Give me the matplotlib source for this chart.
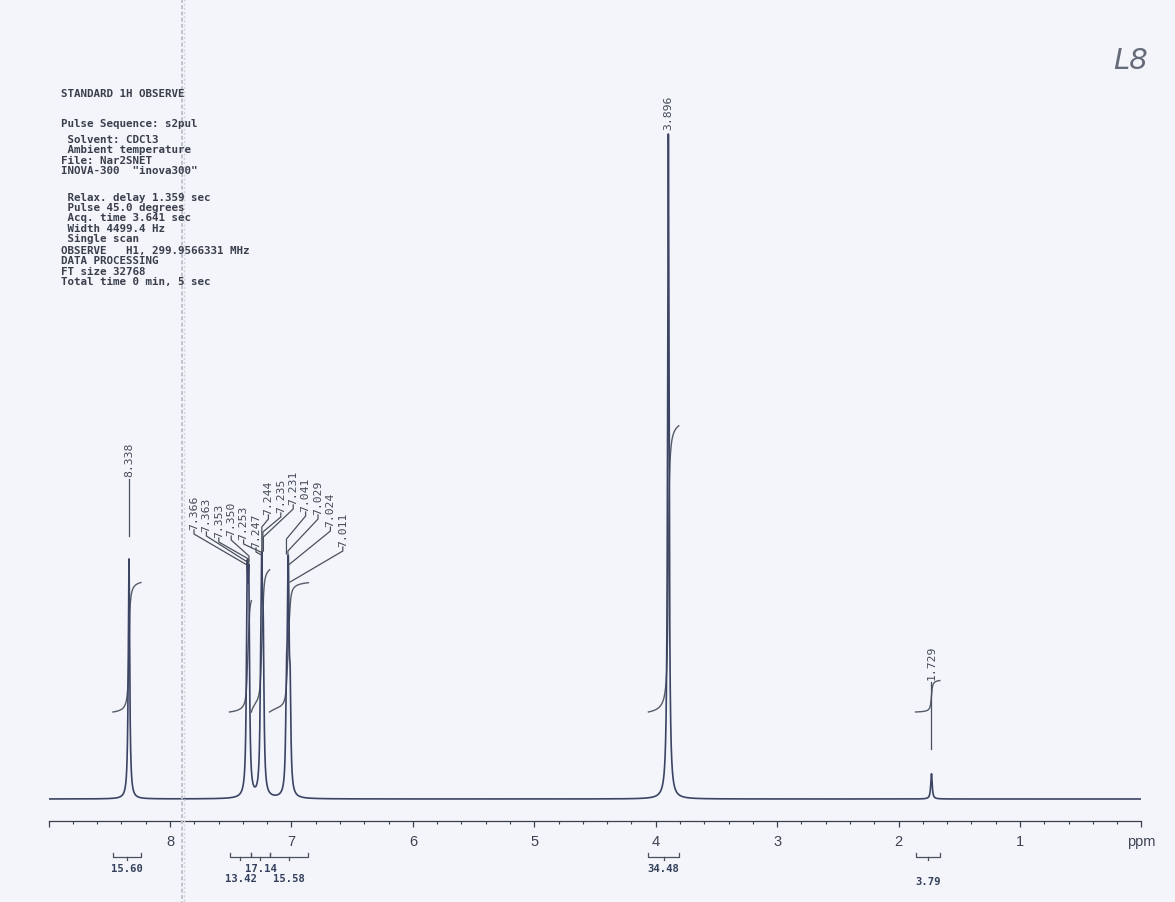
import numpy as np
import matplotlib
matplotlib.use("Agg")
import matplotlib.pyplot as plt
from matplotlib.ticker import MultipleLocator

W, H, DPI = 1175, 903, 100

# ---- spectrum: resolved lines (ppm) and relative heights ----------------
line_ppm = [8.338,
            7.366, 7.363, 7.353, 7.350,
            7.253, 7.247, 7.244, 7.235, 7.231,
            7.041, 7.029, 7.024, 7.011,
            3.896,
            1.729]
line_height = [36.1,
               15.0, 15.0, 14.5, 14.5,
               9.0, 13.0, 15.5, 11.0, 11.0,
               13.0, 18.0, 18.0, 13.0,
               100.0,
               3.8]
line_fwhm = 0.014  # ppm

# ---- integral regions (ppm) and integral values -------------------------
integral_start = [8.47, 7.51, 7.33, 7.18, 4.06, 1.86]
integral_end = [8.24, 7.33, 7.18, 6.86, 3.81, 1.66]
integral_value = [15.60, 13.42, 17.14, 15.58, 34.48, 3.79]

# ---- axis ---------------------------------------------------------------
ppm_ticks = [9, 8, 7, 6, 5, 4, 3, 2, 1, 0]
ppm_tick_labels = ["", "8", "7", "6", "5", "4", "3", "2", "1", "ppm"]

# ---- acquisition parameters block ---------------------------------------
header_lines = [
    "STANDARD 1H OBSERVE",
    "Pulse Sequence: s2pul",
    " Solvent: CDCl3",
    " Ambient temperature",
    "File: Nar2SNET",
    'INOVA-300  "inova300"',
    " Relax. delay 1.359 sec",
    " Pulse 45.0 degrees",
    " Acq. time 3.641 sec",
    " Width 4499.4 Hz",
    " Single scan",
    "OBSERVE   H1, 299.9566331 MHz",
    "DATA PROCESSING",
    "FT size 32768",
    "Total time 0 min, 5 sec",
]
header_y = [94, 124, 140, 150.3, 161, 170.7, 197.7, 208, 218.3, 229, 239.3,
            250.7, 261, 271.7, 282.3]

# ---- page geometry (pixels) ---------------------------------------------
PX_PER_UNIT = 6.65          # vertical pixels per intensity unit
BASELINE_PX = 800
AXIS_PX = 822
TOP_PX = 40
INT_OFFSET_PX = 87          # integral trace start above baseline
INT_PX_PER_VALUE = 8.3      # integral rise per integral unit

INK = "#3a3f4c"
BG = "#f3f5fb"

fig = plt.figure(figsize=(W / DPI, H / DPI), dpi=DPI, facecolor=BG)

x_left_px, x_right_px = 48.6, 1141.4
ax = fig.add_axes([x_left_px / W, (H - AXIS_PX) / H,
                   (x_right_px - x_left_px) / W, (AXIS_PX - TOP_PX) / H])
ax.set_facecolor("none")
ax.set_xlim(9.0, 0.0)
ax.set_ylim(-(AXIS_PX - BASELINE_PX) / PX_PER_UNIT,
            (BASELINE_PX - TOP_PX) / PX_PER_UNIT)

# spectrum as a sum of Lorentzian lines
x = np.linspace(9.0, 0.0, 60000)
hw = line_fwhm / 2.0
spec = np.zeros_like(x)
for p, h in zip(line_ppm, line_height):
    spec += h / (1.0 + ((x - p) / hw) ** 2)
ax.plot(x, spec, color="#3b4462", lw=1.2, zorder=3)

# integral traces
int_off = INT_OFFSET_PX / PX_PER_UNIT
int_scale = INT_PX_PER_VALUE / PX_PER_UNIT
for a, b, v in zip(integral_start, integral_end, integral_value):
    xi = np.linspace(a, b, 600)
    si = np.zeros_like(xi)
    for p, h in zip(line_ppm, line_height):
        si += h / (1.0 + ((xi - p) / hw) ** 2)
    cum = np.cumsum(si)
    cum = (cum - cum[0]) / (cum[-1] - cum[0])
    ax.plot(xi, int_off + v * int_scale * cum, color="#555b68", lw=1.0, zorder=2)

# axis styling
for s in ("left", "right", "top"):
    ax.spines[s].set_visible(False)
ax.spines["bottom"].set_color(INK)
ax.spines["bottom"].set_linewidth(0.9)
ax.set_yticks([])
ax.set_xticks(ppm_ticks)
ax.set_xticklabels(ppm_tick_labels, fontsize=10.5, family="Liberation Sans",
                   color="#3d4352")
ax.xaxis.set_minor_locator(MultipleLocator(0.2))
ax.tick_params(axis="x", which="major", direction="out", length=4.5,
               width=0.9, color=INK, pad=5)
ax.tick_params(axis="x", which="minor", direction="out", length=2.5,
               width=0.8, color=INK)

# overlay in page pixels for annotations
ov = fig.add_axes([0, 0, 1, 1], zorder=5)
ov.set_xlim(0, W)
ov.set_ylim(H, 0)
ov.axis("off")
ov.patch.set_alpha(0)


def to_px(ppm, y=0.0):
    X, Y = ax.transData.transform((ppm, y))
    return X, H - Y


# paper fold running down the page
ov.plot([181.5, 181.5], [0, H], color="#bfc2cb", lw=1.4, ls=(0, (2, 1.2)), zorder=0)
ov.plot([184.0, 184.0], [0, H], color="#d0d3db", lw=1.0, ls=(0, (1.5, 1.5)), zorder=0)

# acquisition parameters
for t, yy in zip(header_lines, header_y):
    ov.text(61, yy, t, family="DejaVu Sans Mono", weight="bold", fontsize=7.8,
            color=INK, ha="left", va="center")

# handwritten sample tag
ov.text(1131, 61, "L8", fontsize=21, color="#656b78", ha="center", va="center",
        family="DejaVu Sans", fontstyle="italic", weight="light")

# peak labels with leaders
label_x = [None, 194, 206.4, 218.8, 231.2, 243.6, 256, 268.4, 280.8, 293.2,
           305.6, 318, 330.4, 342.8, None, None]
label_bottom = [477, 530, 532, 538, 536, 540, 548, 515, 513, 505, 512, 515, 527,
                547, 130, 680]
leader_join = [None, 566, 563, 560, 557, 553, 556, 528, 533, 538, 540, 552, 566,
               583, None, None]
leader_end = [537, 563, 563, 563, 563, 552, 552, 552, 552, 552, 555, 555, 555, 555,
              None, 750]

lab_kw = dict(family="DejaVu Sans Mono", fontsize=8.2, color="#444a58",
              rotation=90, ha="center", va="bottom")
for i, p in enumerate(line_ppm):
    px, _ = to_px(p)
    txt = f"{p:.3f}"
    if label_x[i] is None:
        ov.text(px, label_bottom[i], txt, **lab_kw)
        if leader_end[i] is not None:
            ov.plot([px, px], [label_bottom[i] + 3, leader_end[i]], color="#4a505c",
                    lw=0.9)
    else:
        lx = label_x[i]
        ov.text(lx, label_bottom[i], txt, **lab_kw)
        ys = label_bottom[i] + 5
        xs = [lx, lx, px]
        yl = [label_bottom[i] + 1, ys, leader_join[i]]
        if leader_end[i] > leader_join[i]:
            xs.append(px)
            yl.append(leader_end[i])
        ov.plot(xs, yl, color="#4a505c", lw=0.9)

# integral brackets and values under the axis
label_row = [0, 10, 0, 10, 0, 13]
BR_Y = 858
for a, b, v, r in zip(integral_start, integral_end, integral_value, label_row):
    xa, _ = to_px(a)
    xb, _ = to_px(b)
    xc = 0.5 * (xa + xb)
    ov.plot([xa, xa, xb, xb], [BR_Y - 3.5, BR_Y, BR_Y, BR_Y - 3.5],
            color="#4a505c", lw=0.9)
    ov.plot([xc, xc], [BR_Y, BR_Y + 3], color="#4a505c", lw=0.9)
    ov.text(xc, BR_Y + 11 + r, f"{v:.2f}", family="DejaVu Sans Mono",
            fontsize=7.6, color="#34405a", ha="center", va="center",
            weight="bold")

fig.savefig("out.png", dpi=DPI, facecolor=BG)
